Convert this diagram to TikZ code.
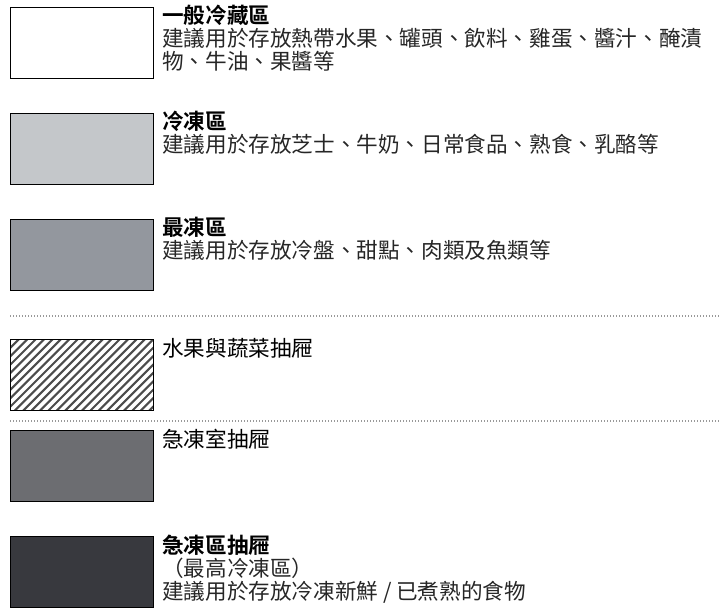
\documentclass[tikz,border=0pt]{standalone}
\usepackage{fontspec}
\setmainfont{Noto Sans CJK TC}[BoldFont={Noto Sans CJK TC Bold}]
\begin{document}
\begin{tikzpicture}[x=1pt,y=-1pt,
    zone/.style={draw=black,line width=1.4pt,shape=rectangle,inner sep=0pt,%
      minimum width=143pt,minimum height=71pt,anchor=north west},
    legend/.style={anchor=north west,inner sep=0pt,align=left,text=black!85,%
      font=\fontsize{21.6}{22.8}\selectfont},
    sepline/.style={gray!80,line width=1.1pt,dash pattern=on 1.1pt off 1.9pt},
    hatch/.style={black!70,line width=2.1pt}]
          \useasboundingbox (0,0) rectangle (720,610);
          \draw node[zone,fill=white] (Z0) at (10,7) {};
          \draw node[legend] (L0) at (162,5) %
          {\textbf{\color{black}一般冷藏區}\\建議用於存放熱帶水果、罐頭、飲料、雞蛋、醬汁、醃漬\\物、牛油、果醬等};
          \draw node[zone,fill={rgb,255:red,196;green,199;blue,202}] (Z1) at (10,113) {};
          \draw node[legend] (L1) at (162,111) %
          {\textbf{\color{black}冷凍區}\\建議用於存放芝士、牛奶、日常食品、熟食、乳酪等};
          \draw node[zone,fill={rgb,255:red,147;green,151;blue,158}] (Z2) at (10,219) {};
          \draw node[legend] (L2) at (162,217) %
          {\textbf{\color{black}最凍區}\\建議用於存放冷盤、甜點、肉類及魚類等};
          \coordinate (S0a) at (10,316);
          \coordinate (S0b) at (720,316);
          \draw[sepline] (S0a) -- (S0b);
          \draw node[zone,fill=white,path picture={%
            \foreach \i in {0,...,27}
              \draw[hatch] ([xshift=\i*8.4pt-80pt]path picture bounding box.south west) -- ++(80,-80);
          }] (Z3) at (10,339) {};
          \draw node[legend,text=black] (L3) at (162,338) {水果與蔬菜抽屜};
          \coordinate (S1a) at (10,421);
          \coordinate (S1b) at (720,421);
          \draw[sepline] (S1a) -- (S1b);
          \draw node[zone,fill={rgb,255:red,108;green,109;blue,113}] (Z4) at (10,430) {};
          \draw node[legend,text=black] (L4) at (162,429) {急凍室抽屜};
          \draw node[zone,fill={rgb,255:red,56;green,57;blue,62}] (Z5) at (10,536) {};
          \draw node[legend] (L5) at (162,535) %
          {\textbf{\color{black}急凍區抽屜}\\（最高冷凍區）\\建議用於存放冷凍新鮮 / 已煮熟的食物};
        \end{tikzpicture}
\end{document}
